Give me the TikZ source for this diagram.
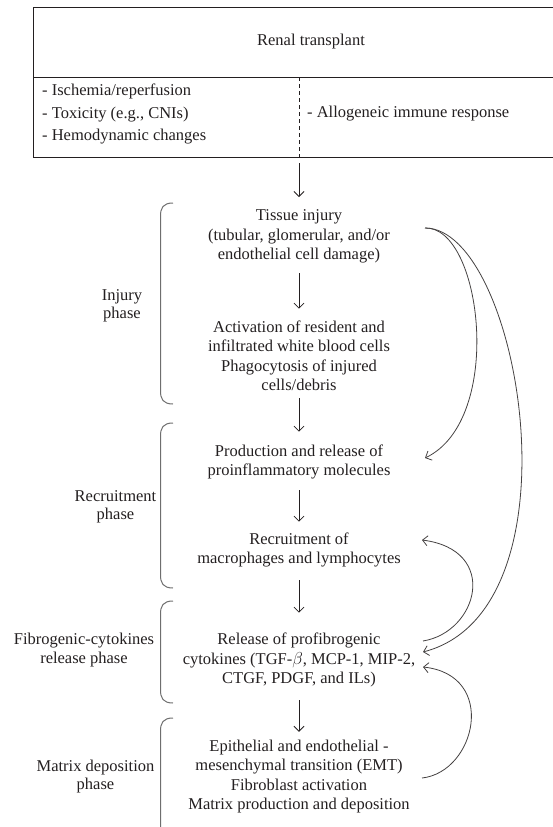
\documentclass[tikz,border=0pt]{standalone}
\usepackage{fontspec}
\setmainfont{Liberation Serif}
\usetikzlibrary{arrows.meta}
\definecolor{ink}{RGB}{35,31,32}
\definecolor{brk}{RGB}{110,110,110}
\begin{document}
\begin{tikzpicture}[x=1pt,y=-1pt,
  txt/.style={inner sep=0pt,align=center,text=ink,font=\fontsize{16.5}{19.5}\selectfont},
  lbl/.style={inner sep=0pt,align=center,text=ink,font=\fontsize{16.5}{18.5}\selectfont},
  arr/.style={draw=ink,line width=0.8pt,-{Straight Barb[length=5pt,width=10pt]}},
  curv/.style={draw=ink!85,line width=0.8pt,-{Straight Barb[length=5pt,width=10pt]}},
  brace/.style={draw=brk,line width=1pt}]
\useasboundingbox (0,0) rectangle (553,827);
% top box
\draw[ink,line width=0.9pt] (553,7) -- (33,7) -- (33,157) -- (553,157);
\draw[ink,line width=0.9pt] (33,77) -- (553,77);
\draw[ink,line width=0.7pt,dash pattern=on 4pt off 3pt] (299,77) -- (299,157);
\node[txt] (title) at (311,42) {Renal transplant};
\node[txt,anchor=west,align=left,font=\fontsize{16.5}{22.5}\selectfont] (causes) at (42,114) {- Ischemia/reperfusion\\- Toxicity (e.g., CNIs)\\- Hemodynamic changes};
\node[txt,anchor=west] (allo) at (307,114) {- Allogeneic immune response};
\coordinate (boxb) at (299,163);
% main column
\node[txt] (tissue) at (299,236.5) {Tissue injury\\(tubular, glomerular, and/or\\endothelial cell damage)};
\node[txt] (act) at (299,356) {Activation of resident and\\infiltrated white blood cells\\Phagocytosis of injured\\cells/debris};
\node[txt] (prod) at (299,462) {Production and release of\\proinflammatory molecules};
\node[txt] (recr) at (299,550) {Recruitment of\\macrophages and lymphocytes};
\node[txt] (rel) at (299,660) {Release of profibrogenic\\cytokines (TGF-$\beta$, MCP-1, MIP-2,\\CTGF, PDGF, and ILs)};
\node[txt] (emt) at (299,776.5) {Epithelial and endothelial -\\mesenchymal transition (EMT)\\Fibroblast activation\\Matrix production and deposition};
% straight arrows
\draw[arr] (boxb) -- ([yshift=12.5pt]tissue.north);
\draw[arr] ([yshift=-10pt]tissue.south) -- ([yshift=12pt]act.north);
\draw[arr] ([yshift=-7pt]act.south) -- ([yshift=12.8pt]prod.north);
\draw[arr] ([yshift=-10.8pt]prod.south) -- ([yshift=10.8pt]recr.north);
\draw[arr] ([yshift=-12.8pt]recr.south) -- ([yshift=20pt]rel.north);
\draw[arr] ([yshift=-13pt]rel.south) -- ([yshift=7.8pt]emt.north);
% phase labels
\node[lbl] (lInj) at (122,306) {Injury\\phase};
\node[lbl] (lRec) at (115.5,507) {Recruitment\\phase};
\node[lbl] (lFib) at (84,650) {Fibrogenic-cytokines\\release phase};
\node[lbl] (lMat) at (95.5,776.5) {Matrix deposition\\phase};
% brackets
\draw[brace] (173,203) .. controls (163,203) and (160.5,208) .. (160.5,216) -- (160.5,391) .. controls (160.5,399) and (163,404) .. (173,404);
\draw[brace] (173,423) .. controls (163,423) and (160.5,428) .. (160.5,436) -- (160.5,575) .. controls (160.5,583) and (163,588) .. (173,588);
\draw[brace] (173,601) .. controls (163,601) and (160.5,606) .. (160.5,614) -- (160.5,690) .. controls (160.5,698) and (163,703) .. (173,703);
\draw[brace] (173,718) .. controls (163,718) and (160.5,723) .. (160.5,731) -- (160.5,830);
% curved feedback arrows
\coordinate (tisR) at (425,228);
\coordinate (prodR) at (425,458);
\coordinate (relR1) at (423,652);
\coordinate (relR0) at (423,641);
\coordinate (recrR) at (422,540);
\coordinate (emtR) at (422,778);
\coordinate (relR2) at (423,667);
\draw[curv] (tisR) .. controls (482,226) and (505,420) .. (prodR);
\draw[curv] (tisR) .. controls (520,228) and (585,610) .. (relR1);
\draw[curv] (relR0) .. controls (478,632) and (500,550) .. (recrR);
\draw[curv] (emtR) .. controls (476,772) and (498,675) .. (relR2);
\end{tikzpicture}
\end{document}
